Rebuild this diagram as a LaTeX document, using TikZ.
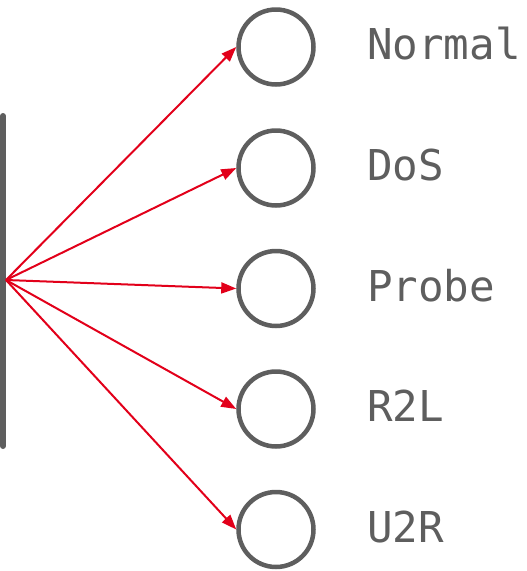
\documentclass[tikz,border=0pt]{standalone}
\usepackage{fontspec}
\setmonofont{DejaVu Sans Mono}
\usetikzlibrary{arrows.meta}
\definecolor{darkgray}{HTML}{5E5E5E}
\definecolor{linkred}{HTML}{E2001A}
\tikzset{
  classnode/.style={circle, draw=darkgray, line width=4.5pt, minimum size=75pt, inner sep=0pt},
  classlabel/.style={anchor=base west, inner sep=0pt, text=darkgray, font=\ttfamily\fontsize{42.5}{42.5}\selectfont},
  link/.style={draw=linkred, line width=2pt, -{Triangle[length=15pt, width=11pt]}}
}
\begin{document}
\begin{tikzpicture}[x=1pt, y=-1pt]
  \useasboundingbox (0,0) rectangle (527,571);
  % input bar
  \draw[darkgray, line width=6pt, line cap=round] (3,116) -- (3,446);
  \coordinate (src) at (6,280);
  % output classes
  \foreach \name/\y/\txt in {n1/47/Normal, n2/168/DoS, n3/288.5/Probe, n4/409/R2L, n5/529.5/U2R} {
    \node[classnode] (\name) at (276,\y) {};
    \node[classlabel] (\name-t) at (367,\y+12.5) {\txt};
    \draw[link] (src) -- (\name.west);
  }
\end{tikzpicture}
\end{document}
